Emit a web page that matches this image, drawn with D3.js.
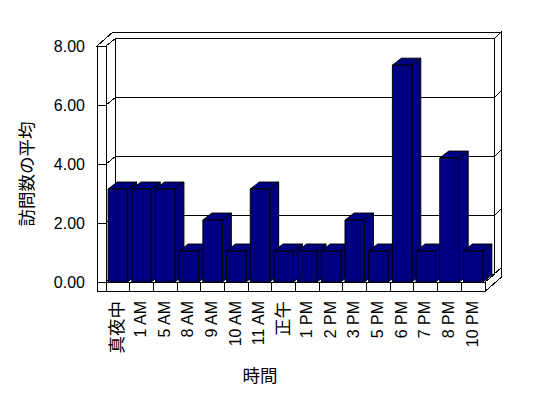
<!DOCTYPE html>
<html>
<head>
<meta charset="utf-8">
<script src="https://cdn.jsdelivr.net/npm/d3@7"></script>
<style>
  body { margin: 0; background: #fff; }
  svg text { font-family: "Liberation Sans", Arial, "Noto Sans CJK JP", sans-serif; fill: #000; }
</style>
</head>
<body>
<script>
const categories = ["真夜中", "1 AM", "5 AM", "8 AM", "9 AM", "10 AM", "11 AM", "正午",
  "1 PM", "2 PM", "3 PM", "5 PM", "6 PM", "7 PM", "8 PM", "10 PM"];
const values = [3.15, 3.15, 3.15, 1.05, 2.10, 1.05, 3.15, 1.05,
  1.05, 1.05, 2.10, 1.05, 7.35, 1.05, 4.20, 1.05];
const yTicks = [0, 2, 4, 6, 8];
const yTitle = "訪問数の平均";
const xTitle = "時間";

const chartWidth = 548;
const chartHeight = 398;

// front plane of the plot
const plotLeft = 106, plotRight = 485, plotBase = 282, plotTop = 46;
// depth of the inner box, extra thickness of back wall, wall / floor thickness
const dx = 9.5, dy = -7.5;
const bx = 6.5, by = -6.5;
const wallW = 9, floorH = 9.5;
// bar depth
const barDx = 9, barDy = -7;

const svg = d3.select("body")
  .append("svg")
  .attr("width", chartWidth)
  .attr("height", chartHeight)
  .attr("viewBox", `0 0 ${chartWidth} ${chartHeight}`);

const x = d3.scaleBand()
  .domain(categories)
  .range([plotLeft, plotRight])
  .paddingInner(0.18)
  .paddingOuter(0.09);

const xCat = d3.scaleBand()
  .domain(categories)
  .range([plotLeft, plotRight])
  .padding(0);

const y = d3.scaleLinear()
  .domain([0, 8])
  .range([plotBase, plotTop]);

const line = d3.line();
const box = svg.append("g")
  .attr("fill", "#fff")
  .attr("stroke", "#000")
  .attr("stroke-width", 1)
  .attr("shape-rendering", "crispEdges");

const poly = (pts, g = box) => g.append("path").attr("d", line(pts) + "Z");

const L = plotLeft, R = plotRight, B = plotBase, T = plotTop;

// top of walls (L-shape)
poly([[L - wallW, T], [L, T], [L + dx, T + dy], [R + dx, T + dy],
  [R + dx + bx, T + dy + by], [L - wallW + dx + bx, T + dy + by]]);
// right side of back wall + floor
poly([[R + dx, T + dy], [R + dx + bx, T + dy + by],
  [R + dx + bx, B + dy + by + floorH], [R, B + floorH], [R, B],
  [R + dx, B + dy]]);
box.append("path").attr("fill", "none")
  .attr("d", line([[R, B], [R + dx + bx, B + dy + by]]));
// back wall front face
poly([[L + dx, T + dy], [R + dx, T + dy], [R + dx, B + dy], [L + dx, B + dy]]);
// left wall inner face
poly([[L, T], [L + dx, T + dy], [L + dx, B + dy], [L, B]]);
// left wall front face
poly([[L - wallW, T], [L, T], [L, B + floorH], [L - wallW, B + floorH]]);
// floor top and front
poly([[L, B], [R, B], [R + dx, B + dy], [L + dx, B + dy]]);
poly([[L, B], [R, B], [R, B + floorH], [L, B + floorH]]);

// category dividers on the floor front
box.selectAll(".divider")
  .data(categories.slice(1))
  .join("line")
  .attr("class", "divider")
  .attr("x1", d => xCat(d))
  .attr("x2", d => xCat(d))
  .attr("y1", B)
  .attr("y2", B + floorH);

// gridlines: left wall inner face, back wall, right side
const grid = box.append("g").attr("fill", "none");
yTicks.filter(v => v > 0 && v < 8).forEach(v => {
  const yy = y(v);
  grid.append("path").attr("d", line([[L, yy], [L + dx, yy + dy],
    [R + dx, yy + dy], [R + dx + bx, yy + dy + by]]));
});
// ticks on the left wall front
grid.selectAll(".tick")
  .data(yTicks)
  .join("line")
  .attr("class", "tick")
  .attr("x1", L - wallW)
  .attr("x2", L)
  .attr("y1", d => y(d))
  .attr("y2", d => y(d));

// bars, left to right
const bars = svg.append("g")
  .attr("fill", "#000080")
  .attr("stroke", "#000")
  .attr("stroke-width", 1)
  .attr("stroke-linejoin", "round");

categories.forEach((c, i) => {
  const x0 = x(c), x1 = x(c) + x.bandwidth();
  const y1 = y(values[i]);
  // side
  poly([[x1, y1], [x1 + barDx, y1 + barDy], [x1 + barDx, B + barDy], [x1, B]], bars);
  // top
  poly([[x0, y1], [x1, y1], [x1 + barDx, y1 + barDy], [x0 + barDx, y1 + barDy]], bars);
  // front
  bars.append("rect")
    .attr("x", x0)
    .attr("y", y1)
    .attr("width", x1 - x0)
    .attr("height", B - y1);
});

// y tick labels
svg.append("g")
  .selectAll("text")
  .data(yTicks)
  .join("text")
  .attr("x", 85)
  .attr("y", d => y(d))
  .attr("text-anchor", "end")
  .attr("dominant-baseline", "central")
  .style("font-size", "16px")
  .text(d => d3.format(".2f")(d));

// x labels, rotated
const cjk = /[\u3000-\u9fff]/;
svg.append("g")
  .selectAll("text")
  .data(categories)
  .join("text")
  .attr("transform", d => `translate(${xCat(d) + xCat.bandwidth() / 2 - 1},301) rotate(-90)`)
  .attr("text-anchor", "end")
  .attr("dominant-baseline", "central")
  .style("font-size", d => cjk.test(d) ? "17.5px" : "16px")
  .text(d => d);

// axis titles
svg.append("text")
  .attr("transform", "translate(27,174) rotate(-90)")
  .attr("text-anchor", "middle")
  .attr("dominant-baseline", "central")
  .style("font-size", "17.5px")
  .text(yTitle);

svg.append("text")
  .attr("x", 260)
  .attr("y", 376)
  .attr("text-anchor", "middle")
  .attr("dominant-baseline", "central")
  .style("font-size", "17.5px")
  .text(xTitle);
</script>
</body>
</html>
